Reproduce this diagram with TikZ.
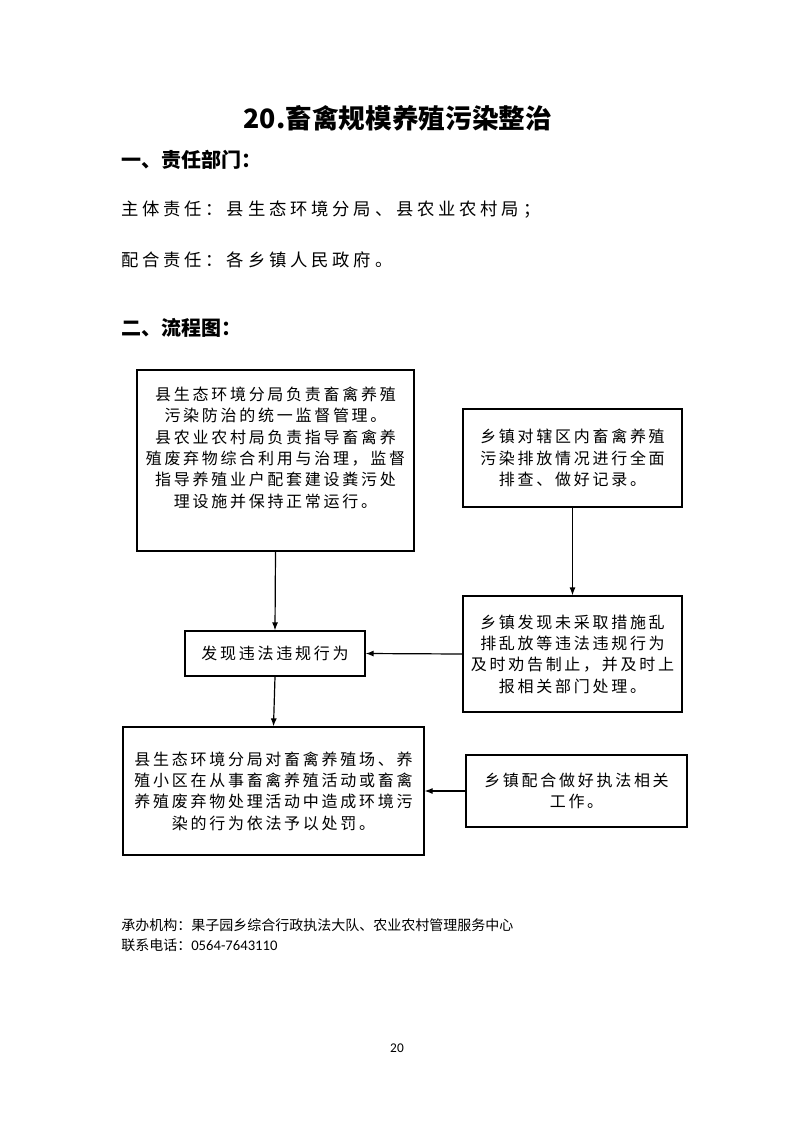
\documentclass[tikz,border=0pt]{standalone}
\usepackage{fontspec}
\setmainfont{Noto Sans CJK SC}
\newfontfamily\kuangfont[LetterSpace=17]{Noto Sans CJK SC}
\newfontfamily\zhengwen[LetterSpace=22]{Noto Sans CJK SC}
\newfontfamily\shuzi{Carlito}
\usetikzlibrary{arrows.meta}

\tikzset{
  kuang/.style={draw, line width=0.9pt, align=center, inner sep=4pt,
    font={\fontsize{12}{16}\selectfont\kuangfont}},
  jiantou/.style={-{Latex[length=6pt,width=4.5pt]}, line width=0.9pt},
  hang/.style={anchor=west, inner sep=0pt},
}

\begin{document}
\begin{tikzpicture}[x=0.75pt, y=-0.75pt]
\useasboundingbox (0,0) rectangle (793,1122);

% title and headings
\node[inner sep=0pt, font={\fontsize{20}{24}\selectfont\bfseries}] (biaoti) at (398,118) {20.畜禽规模养殖污染整治};
\node[hang, font={\fontsize{15}{18}\selectfont\bfseries}] (bumen) at (121,160) {一、责任部门：};
\node[hang, font={\fontsize{13}{16}\selectfont\zhengwen}] (zhuti) at (121,210) {主体责任：县生态环境分局、县农业农村局；};
\node[hang, font={\fontsize{13}{16}\selectfont\zhengwen}] (peihe) at (121,260) {配合责任：各乡镇人民政府。};
\node[hang, font={\fontsize{15}{18}\selectfont\bfseries}] (liucheng) at (121,328) {二、流程图：};

% boxes
\node[kuang, minimum width=207.75pt, minimum height=135.75pt] (jianguan) at (275.5,460.5)
  {县生态环境分局负责畜禽养殖\\污染防治的统一监督管理。\\县农业农村局负责指导畜禽养\\殖废弃物综合利用与治理，监督\\指导养殖业户配套建设粪污处\\理设施并保持正常运行。\\\rule{0pt}{18pt}};
\node[kuang, minimum width=164.25pt, minimum height=73.5pt] (paicha) at (572.5,458)
  {乡镇对辖区内畜禽养殖\\污染排放情况进行全面\\排查、做好记录。};
\node[kuang, minimum width=164.25pt, minimum height=87pt] (quanzhi) at (572.5,654)
  {乡镇发现未采取措施乱\\排乱放等违法违规行为\\及时劝告制止，并及时上\\报相关部门处理。};
\node[kuang, minimum width=135pt, minimum height=33.75pt] (faxian) at (275,653.5)
  {发现违法违规行为};
\node[kuang, minimum width=225.75pt, minimum height=96pt] (chufa) at (273.5,791)
  {县生态环境分局对畜禽养殖场、养\\殖小区在从事畜禽养殖活动或畜禽\\养殖废弃物处理活动中造成环境污\\染的行为依法予以处罚。};
\node[kuang, minimum width=165.75pt, minimum height=54pt] (zhifa) at (576.5,791)
  {乡镇配合做好执法相关\\工作。};

% arrows
\draw[jiantou] (jianguan.south) -- (faxian.north);
\draw[jiantou] (faxian.south) -- (chufa.north);
\draw[jiantou] (paicha.south) -- (quanzhi.north);
\draw[jiantou] (quanzhi.west) -- (faxian.east);
\draw[jiantou] (zhifa.west) -- (chufa.east);

% footer
\node[hang, font={\fontsize{10.5}{12}\selectfont}] (chengban) at (121,925) {承办机构：果子园乡综合行政执法大队、农业农村管理服务中心};
\node[hang, font={\fontsize{10.5}{12}\selectfont}] (dianhua) at (121,945) {联系电话：{\shuzi\fontsize{11}{12}\selectfont 0564-7643110}};
\node[inner sep=0pt, font={\fontsize{10}{12}\selectfont\shuzi}] (yema) at (397,1048) {20};
\end{tikzpicture}
\end{document}
